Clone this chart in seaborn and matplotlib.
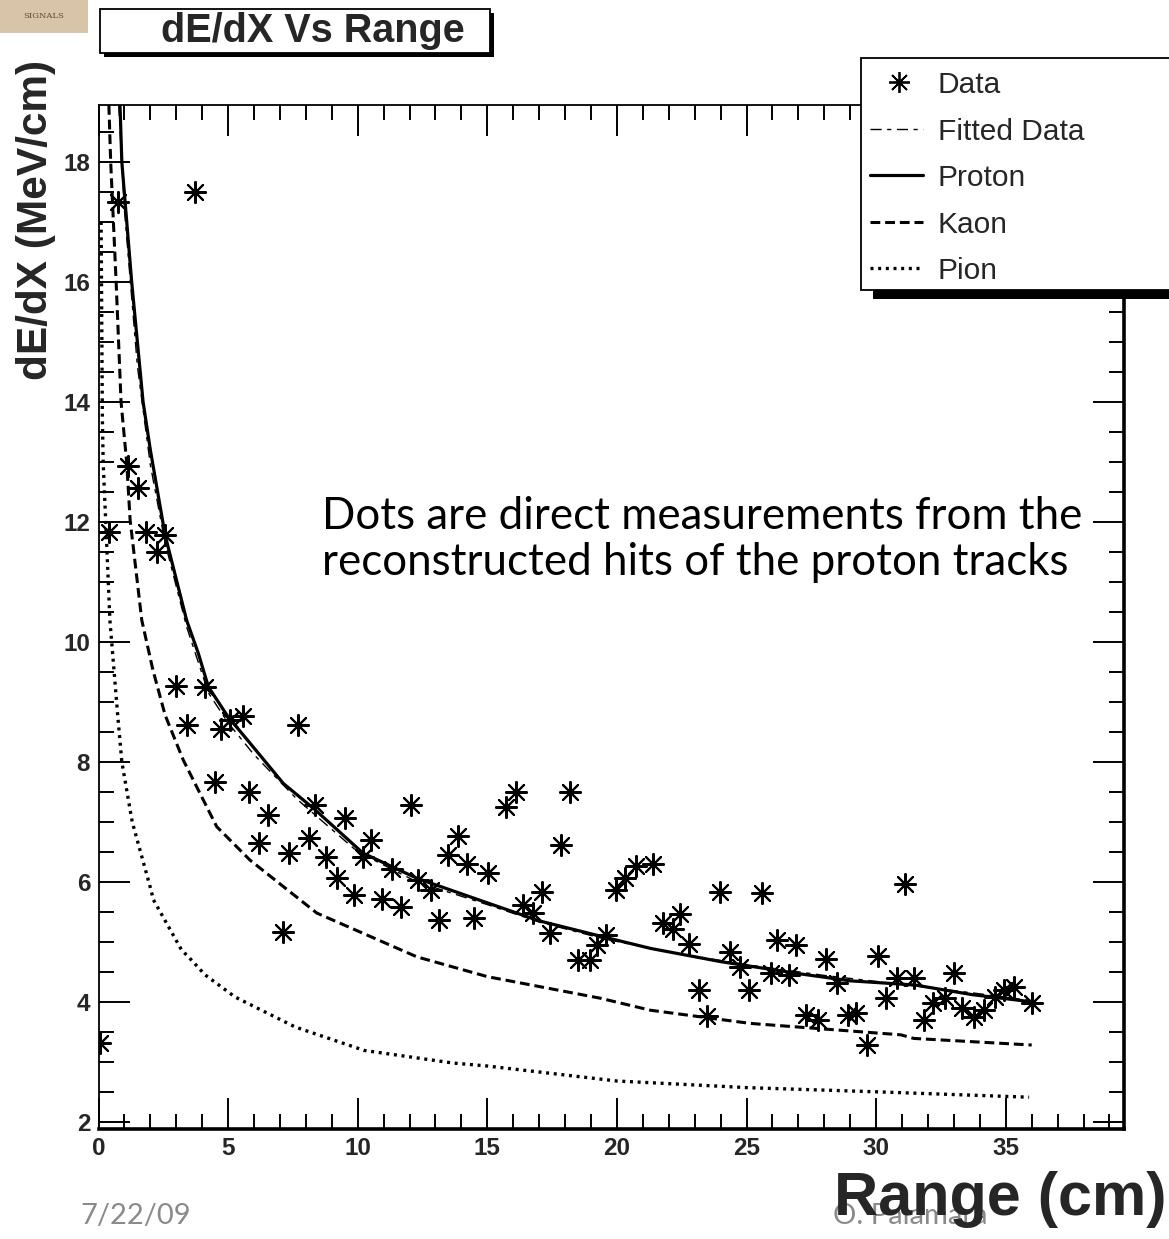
import numpy as np
import pandas as pd
import matplotlib
matplotlib.use("Agg")
import matplotlib.pyplot as plt
from matplotlib.patches import Rectangle
from matplotlib.lines import Line2D
import seaborn as sns

# ---------------- data ----------------
data_x = [0.06, 0.40, 0.76, 1.15, 1.51, 1.82, 2.25, 2.57, 2.99, 3.40, 3.72, 4.11, 4.49, 4.71,
          5.07, 5.56, 5.81, 6.20, 6.55, 7.10, 7.36, 7.68, 8.11, 8.35, 8.77, 9.19, 9.51, 9.86,
          10.22, 10.50, 10.93, 11.31, 11.66, 12.06, 12.34, 12.82, 13.15, 13.47, 13.88, 14.20,
          14.49, 15.04, 15.71, 16.11, 16.37, 16.78, 17.10, 17.42, 17.83, 18.19, 18.51, 18.96,
          19.22, 19.58, 19.97, 20.31, 20.74, 21.38, 21.79, 22.15, 22.43, 22.79, 23.18, 23.46,
          23.98, 24.36, 24.75, 25.11, 25.59, 25.93, 26.17, 26.65, 26.91, 27.30, 27.77, 28.07,
          28.48, 28.93, 29.22, 29.64, 30.06, 30.38, 30.80, 31.12, 31.44, 31.86, 32.21, 32.66,
          33.00, 33.30, 33.78, 34.17, 34.59, 34.94, 35.30, 36.00]
data_y = [3.31, 11.83, 17.33, 12.94, 12.56, 11.83, 11.50, 11.78, 9.27, 8.61, 17.50, 9.25, 7.67, 8.54,
          8.70, 8.76, 7.50, 6.65, 7.11, 5.17, 6.48, 8.61, 6.73, 7.28, 6.41, 6.06, 7.07, 5.78,
          6.42, 6.70, 5.71, 6.22, 5.58, 7.28, 6.03, 5.86, 5.37, 6.44, 6.76, 6.30,
          5.39, 6.15, 7.25, 7.50, 5.61, 5.48, 5.83, 5.14, 6.61, 7.50, 4.70, 4.70,
          4.95, 5.11, 5.86, 6.06, 6.26, 6.29, 5.31, 5.22, 5.47, 4.96, 4.20, 3.77,
          5.83, 4.83, 4.58, 4.20, 5.81, 4.48, 5.03, 4.45, 4.95, 3.78, 3.70, 4.72,
          4.31, 3.78, 3.81, 3.28, 4.76, 4.06, 4.39, 5.97, 4.39, 3.70, 3.98, 4.06,
          4.48, 3.89, 3.75, 3.86, 4.08, 4.20, 4.25, 3.98]

proton_x = [0.83, 0.90, 1.28, 1.72, 2.00, 2.57, 3.40, 3.85, 4.24, 5.00, 5.85, 7.13, 8.36, 10.2,
            12.28, 14.8, 17.0, 19.5, 21.3, 24.0, 27.0, 29.0, 31.5, 33.7, 36.0]
proton_y = [18.95, 18.0, 16.0, 14.0, 13.2, 11.78, 10.36, 9.81, 9.25, 8.75, 8.31, 7.64, 7.20, 6.48,
            6.06, 5.68, 5.35, 5.08, 4.89, 4.67, 4.47, 4.35, 4.28, 4.12, 4.00]

fit_x = [0.78, 1.00, 1.50, 2.00, 2.57, 3.40, 4.24, 5.00, 6.00, 7.65, 10.0, 12.28, 15.0, 17.0,
         19.5, 22.0, 25.0, 28.0, 31.0, 33.7, 36.0]
fit_y = [18.95, 17.2, 14.6, 12.95, 11.65, 10.25, 9.15, 8.65, 8.12, 7.38, 6.50, 6.00, 5.62, 5.33,
         5.05, 4.83, 4.62, 4.44, 4.29, 4.15, 4.02]

kaon_x = [0.40, 0.47, 0.68, 0.87, 1.09, 1.22, 1.67, 2.10, 2.57, 3.27, 4.56, 5.85, 8.42, 12.28,
          15.0, 19.36, 21.29, 25.15, 30.95, 31.45, 36.0]
kaon_y = [18.95, 18.0, 16.0, 14.0, 12.98, 12.03, 10.36, 9.53, 8.78, 8.03, 6.92, 6.36, 5.48, 4.75,
          4.42, 4.06, 3.86, 3.64, 3.45, 3.39, 3.28]

pion_x = [0.10, 0.15, 0.18, 0.44, 0.74, 0.90, 1.30, 1.99, 2.12, 3.21, 3.47, 4.11, 5.27, 7.59,
          10.25, 13.67, 15.0, 20.0, 23.2, 25.0, 30.0, 35.9]
pion_y = [17.0, 13.7, 13.0, 10.36, 8.78, 8.0, 7.0, 5.92, 5.70, 4.86, 4.75, 4.45, 4.08, 3.58,
          3.19, 2.98, 2.93, 2.68, 2.61, 2.57, 2.50, 2.41]

x_ticks = [0, 5, 10, 15, 20, 25, 30, 35]
y_ticks = [2, 4, 6, 8, 10, 12, 14, 16, 18]
legend_labels = ["Data", "Fitted Data", "Proton", "Kaon", "Pion"]

# ---------------- figure ----------------
sns.set_theme(style="white")
plt.rcParams['font.family'] = ['Liberation Sans', 'DejaVu Sans']

W, H = 1169, 1239
fig = plt.figure(figsize=(W / 100, H / 100), dpi=100)


def fx(px):
    return px / W


def fy(py):
    return 1 - py / H


ax = fig.add_axes([fx(98.5), fy(1129), fx(1124) - fx(98.5), fy(105) - fy(1129)])

curves = pd.concat([
    pd.DataFrame({"x": proton_x, "y": proton_y, "s": "Proton"}),
    pd.DataFrame({"x": fit_x, "y": fit_y, "s": "Fitted Data"}),
    pd.DataFrame({"x": kaon_x, "y": kaon_y, "s": "Kaon"}),
    pd.DataFrame({"x": pion_x, "y": pion_y, "s": "Pion"}),
])

styles = {
    "Proton": dict(lw=2.3, ls="-"),
    "Fitted Data": dict(lw=1.0, ls=(0, (8, 4, 3, 4))),
    "Kaon": dict(lw=2.2, ls=(0, (3.2, 1.6))),
    "Pion": dict(lw=2.4, ls=(0, (0.9, 1.4))),
}
for name, st in styles.items():
    sub = curves[curves.s == name]
    sns.lineplot(data=sub, x="x", y="y", ax=ax, color="black", sort=False,
                 estimator=None, linewidth=st["lw"], linestyle=st["ls"], legend=False)

pts = pd.DataFrame({"x": data_x, "y": data_y})
sns.scatterplot(data=pts, x="x", y="y", ax=ax, marker=(8, 2, 0), s=230,
                color="black", linewidth=1.5, legend=False, zorder=5)
sns.scatterplot(data=pts, x="x", y="y", ax=ax, marker="o", s=24,
                color="black", linewidth=0, legend=False, zorder=6)

ax.set_xlim(0, 39.56)
ax.set_ylim(1.88, 18.95)
ax.set_xlabel("")
ax.set_ylabel("")
ax.set_xticks(x_ticks)
ax.set_yticks(y_ticks)
ax.set_xticks(np.arange(0, 40, 1), minor=True)
ax.set_yticks(np.arange(2, 19, 0.5), minor=True)
ax.tick_params(which="both", direction="in", top=True, right=True, bottom=True, left=True,
               color="black", width=1.4)
ax.tick_params(which="major", length=22)
ax.tick_params(which="minor", length=11)
ax.tick_params(axis="both", which="major", labelsize=17.5, pad=6)
for lab in ax.get_xticklabels() + ax.get_yticklabels():
    lab.set_fontweight("bold")
for side in ["top", "left"]:
    ax.spines[side].set_linewidth(1.3)
    ax.spines[side].set_color("black")
for side in ["bottom", "right"]:
    ax.spines[side].set_linewidth(2.6)
    ax.spines[side].set_color("black")

# annotation
ax.text(0.218, 0.576, "Dots are direct measurements from the\nreconstructed hits of the proton tracks",
        transform=ax.transAxes, fontsize=31.6, family=["Lato", "DejaVu Sans"], va="center",
        ha="left", linespacing=1.15, color="black")

# ---------------- title box ----------------
fig.add_artist(Rectangle((fx(104), fy(57)), fx(490) - fx(100), fy(9) - fy(53),
                         transform=fig.transFigure, facecolor="black", edgecolor="none"))
fig.add_artist(Rectangle((fx(100), fy(53)), fx(490) - fx(100), fy(9) - fy(53),
                         transform=fig.transFigure, facecolor="white", edgecolor="black", lw=1.3))
fig.text(fx(313), fy(31), "dE/dX Vs Range", fontsize=28.5, fontweight="bold",
         ha="center", va="center")

# logo placeholder
fig.add_artist(Rectangle((0, fy(33)), fx(88), fy(0) - fy(33), transform=fig.transFigure,
                         facecolor="#d8c4a8", edgecolor="none"))
fig.text(fx(44), fy(16), "SIGNALS", fontsize=6, color="#5a4a3a", ha="center", va="center",
         family=["DejaVu Serif"])

# axis labels
fig.text(fx(36), fy(220), "dE/dX (MeV/cm)", rotation=90, fontsize=30.5, fontweight="bold",
         ha="center", va="center")

# footer
fig.text(fx(80), fy(1216), "7/22/09", fontsize=21, color="#8a8a8a", ha="left", va="center",
         family=["Lato", "DejaVu Sans"])
fig.text(fx(833), fy(1216), "O. Palamara", fontsize=21, color="#8a8a8a", ha="left", va="center",
         family=["Lato", "DejaVu Sans"])
fig.text(fx(1166), fy(1200), "Range (cm)", fontsize=44, fontweight="bold", ha="right",
         va="center")

# ---------------- legend (manual) ----------------
fig.add_artist(Rectangle((fx(873), fy(299)), fx(1200) - fx(873), fy(290) - fy(299),
                         transform=fig.transFigure, facecolor="black", edgecolor="none"))
fig.add_artist(Rectangle((fx(861), fy(290)), fx(1200) - fx(861), fy(58) - fy(290),
                         transform=fig.transFigure, facecolor="white", edgecolor="black", lw=1.3))
rows = [82, 129, 175, 222, 268]
handles = [
    dict(marker=(8, 2, 0), ls="none", ms=15, mew=1.3),
    dict(lw=1.0, ls=(0, (8, 4, 3, 4))),
    dict(lw=2.3, ls="-"),
    dict(lw=2.2, ls=(0, (3.2, 1.6))),
    dict(lw=2.4, ls=(0, (0.9, 1.4))),
]
for r, lab, h in zip(rows, legend_labels, handles):
    if "marker" in h:
        fig.add_artist(Line2D([fx(899)], [fy(r)], transform=fig.transFigure, color="black", **h))
    else:
        fig.add_artist(Line2D([fx(870), fx(923)], [fy(r), fy(r)], transform=fig.transFigure,
                              color="black", **h))
    fig.text(fx(938), fy(r), lab, fontsize=21.5, ha="left", va="center_baseline")

fig.savefig("out.png", dpi=100)
